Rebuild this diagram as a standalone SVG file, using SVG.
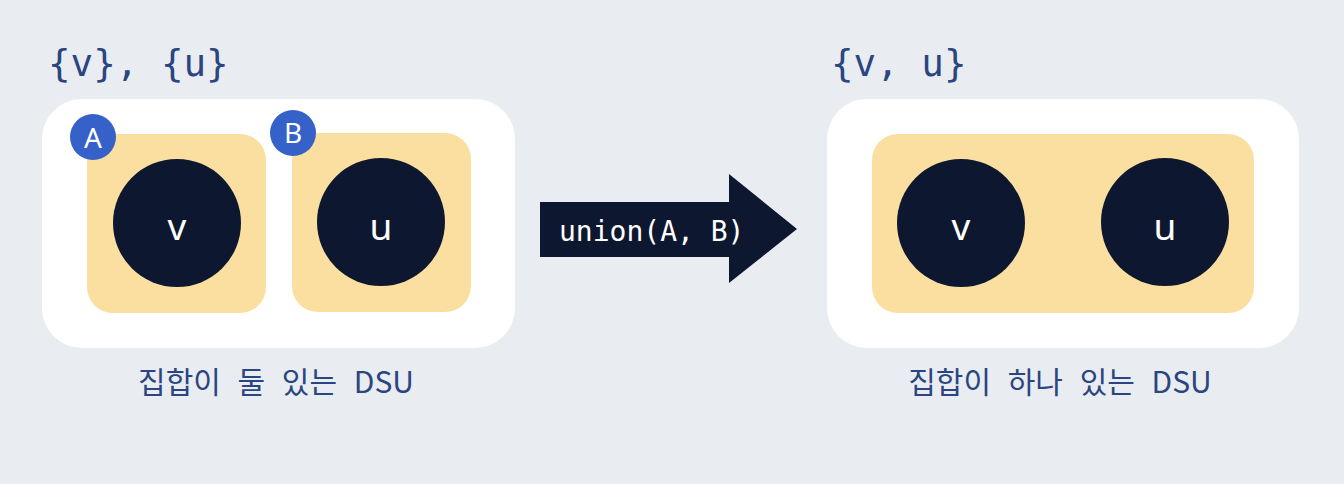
<svg xmlns="http://www.w3.org/2000/svg" width="1344" height="484" viewBox="0 0 1344 484">
<style>
.panel{fill:#ffffff}
.set{fill:#fadfa0}
.node{fill:#0e1730}
.badge{fill:#3561c8}
.nlabel{font-family:"Noto Sans","DejaVu Sans",sans-serif;font-size:37px;fill:#ffffff;text-anchor:middle}
.blabel{font-family:"Noto Sans","DejaVu Sans",sans-serif;font-size:28px;fill:#ffffff;text-anchor:middle}
.mono{font-family:"DejaVu Sans Mono","Liberation Mono",monospace;font-size:37.5px;fill:#2a4580}
.cap{font-family:"Noto Sans CJK KR","Noto Sans",sans-serif;font-size:30px;fill:#2a4580;text-anchor:middle;word-spacing:10px}
.op{font-family:"DejaVu Sans Mono","Liberation Mono",monospace;font-size:28px;fill:#ffffff}
</style>
<rect width="1344" height="484" fill="#e9edf2"/>
<g id="left-title"><text class="mono" x="48" y="76">{v}, {u}</text></g>
<g id="left-panel">
<rect class="panel" x="42" y="99" width="473" height="249" rx="40"/>
</g>
<g id="set-A">
<rect class="set" x="87" y="134" width="179" height="179" rx="26"/>
</g>
<g id="node-v-left">
<circle class="node" cx="177" cy="223" r="64"/>
<text class="nlabel" x="177" y="240">v</text>
</g>
<g id="badge-A">
<circle class="badge" cx="93" cy="137" r="23"/>
<text class="blabel" x="93" y="148">A</text>
</g>
<g id="set-B">
<rect class="set" x="292" y="133" width="179" height="179" rx="26"/>
</g>
<g id="node-u-left">
<circle class="node" cx="381" cy="222" r="64"/>
<text class="nlabel" x="381" y="240">u</text>
</g>
<g id="badge-B">
<circle class="badge" cx="293" cy="133" r="23"/>
<text class="blabel" x="293" y="143">B</text>
</g>
<g id="left-caption"><text class="cap" x="276" y="393">집합이 둘 있는 DSU</text></g>
<g id="connectors">
<polygon id="union-arrow" class="node" points="540,202 729,202 729,174 797,229 729,283 729,257 540,257"/>
<text class="op" x="559" y="241">union(A, B)</text>
</g>
<g id="right-title"><text class="mono" x="831" y="76">{v, u}</text></g>
<g id="right-panel">
<rect class="panel" x="827" y="99" width="472" height="249" rx="40"/>
</g>
<g id="set-AB">
<rect class="set" x="872" y="134" width="382" height="179" rx="26"/>
</g>
<g id="node-v-right">
<circle class="node" cx="961" cy="223" r="64"/>
<text class="nlabel" x="961" y="240">v</text>
</g>
<g id="node-u-right">
<circle class="node" cx="1165" cy="222" r="64"/>
<text class="nlabel" x="1165" y="240">u</text>
</g>
<g id="right-caption"><text class="cap" x="1060" y="393">집합이 하나 있는 DSU</text></g>
</svg>
